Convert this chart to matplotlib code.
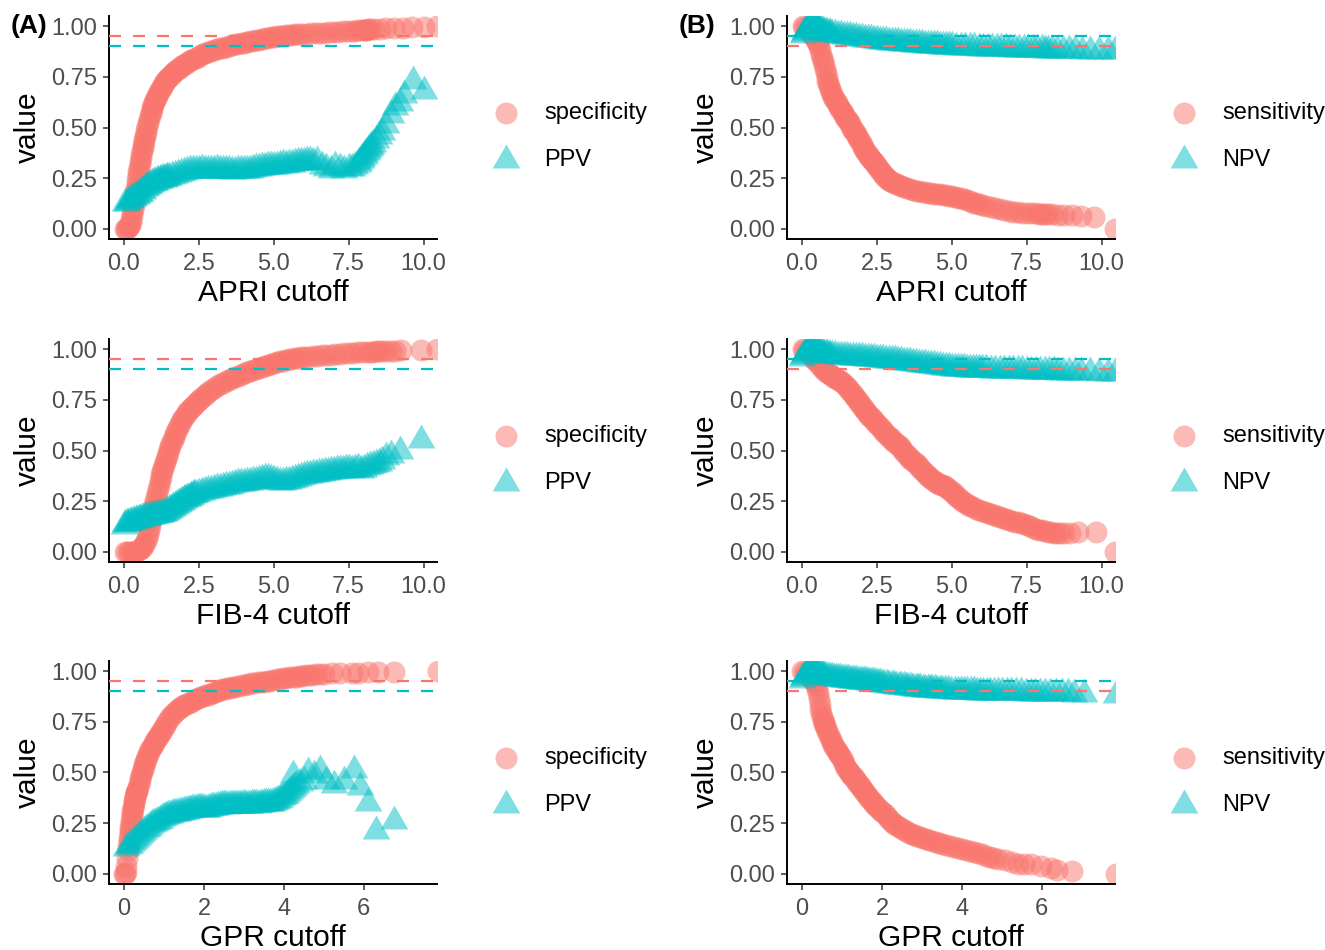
import matplotlib.pyplot as plt

plt.rcParams['font.family'] = ['Liberation Sans', 'DejaVu Sans']

RED = '#F8766D'
CYAN = '#00BFC4'

# (cutoff, value) pairs

# APRI: specificity / PPV
apri_spec = [
    (0.02, 0.0), (0.06, 0.0), (0.1, 0.0), (0.14, 0.01), (0.17, 0.015), (0.2, 0.02), (0.22, 0.035),
    (0.24, 0.05), (0.26, 0.065), (0.28, 0.085), (0.3, 0.1), (0.32, 0.12), (0.34, 0.14), (0.36, 0.16),
    (0.38, 0.18), (0.4, 0.2), (0.42, 0.22), (0.44, 0.245), (0.46, 0.265), (0.48, 0.285), (0.5, 0.3),
    (0.52, 0.32), (0.54, 0.335), (0.56, 0.35), (0.58, 0.37), (0.6, 0.385), (0.62, 0.4), (0.64, 0.415),
    (0.66, 0.43), (0.68, 0.445), (0.7, 0.46), (0.72, 0.475), (0.74, 0.49), (0.77, 0.505), (0.8, 0.52),
    (0.83, 0.54), (0.86, 0.56), (0.89, 0.57), (0.92, 0.585), (0.95, 0.6), (0.98, 0.61), (1.01, 0.625),
    (1.04, 0.635), (1.07, 0.647), (1.1, 0.655), (1.14, 0.665), (1.18, 0.68), (1.22, 0.69), (1.26, 0.7),
    (1.3, 0.71), (1.34, 0.72), (1.38, 0.73), (1.43, 0.738), (1.48, 0.745), (1.53, 0.752), (1.58, 0.76),
    (1.63, 0.767), (1.68, 0.775), (1.74, 0.782), (1.8, 0.79), (1.86, 0.795), (1.92, 0.802), (1.98, 0.808),
    (2.04, 0.815), (2.1, 0.82), (2.17, 0.826), (2.24, 0.832), (2.31, 0.838), (2.39, 0.845), (2.47, 0.85),
    (2.55, 0.856), (2.63, 0.862), (2.72, 0.868), (2.81, 0.873), (2.9, 0.878), (3.0, 0.882), (3.1, 0.886),
    (3.2, 0.89), (3.3, 0.894), (3.4, 0.898), (3.5, 0.902), (3.6, 0.906), (3.7, 0.91), (3.8, 0.913),
    (3.9, 0.916), (4.0, 0.919), (4.1, 0.922), (4.2, 0.925), (4.3, 0.928), (4.4, 0.931), (4.5, 0.934),
    (4.6, 0.937), (4.7, 0.94), (4.8, 0.942), (4.9, 0.945), (5.0, 0.947), (5.1, 0.949), (5.2, 0.951),
    (5.3, 0.953), (5.4, 0.955), (5.5, 0.957), (5.6, 0.958), (5.7, 0.959), (5.8, 0.96), (5.95, 0.962),
    (6.1, 0.963), (6.25, 0.965), (6.4, 0.966), (6.55, 0.967), (6.7, 0.968), (6.85, 0.97), (7.0, 0.971),
    (7.15, 0.972), (7.3, 0.974), (7.45, 0.975), (7.6, 0.977), (7.7, 0.978), (7.8, 0.979), (7.9, 0.98),
    (8.0, 0.981), (8.05, 0.982), (8.1, 0.983), (8.15, 0.984), (8.2, 0.985), (8.35, 0.986), (8.55, 0.988),
    (8.75, 0.99), (9.0, 0.991), (9.3, 0.993), (9.6, 0.995), (10.0, 0.997), (10.45, 1.0)]
apri_ppv = [
    (0.05, 0.13), (0.1, 0.13), (0.15, 0.135), (0.2, 0.14), (0.25, 0.145), (0.3, 0.15), (0.35, 0.155),
    (0.4, 0.16), (0.45, 0.165), (0.5, 0.17), (0.55, 0.178), (0.6, 0.185), (0.65, 0.192), (0.7, 0.2),
    (0.75, 0.205), (0.8, 0.21), (0.85, 0.215), (0.9, 0.22), (0.95, 0.225), (1.0, 0.23), (1.05, 0.232),
    (1.1, 0.235), (1.15, 0.24), (1.2, 0.242), (1.25, 0.245), (1.3, 0.25), (1.35, 0.248), (1.4, 0.252),
    (1.45, 0.255), (1.5, 0.258), (1.6, 0.262), (1.7, 0.268), (1.8, 0.272), (1.9, 0.278), (2.0, 0.28),
    (2.1, 0.285), (2.2, 0.288), (2.3, 0.29), (2.4, 0.292), (2.5, 0.29), (2.6, 0.295), (2.7, 0.29),
    (2.8, 0.292), (2.9, 0.288), (3.0, 0.29), (3.1, 0.295), (3.2, 0.29), (3.3, 0.288), (3.4, 0.292),
    (3.5, 0.29), (3.6, 0.286), (3.7, 0.285), (3.8, 0.288), (3.9, 0.29), (4.0, 0.29), (4.1, 0.288),
    (4.2, 0.292), (4.3, 0.295), (4.4, 0.298), (4.5, 0.3), (4.6, 0.303), (4.7, 0.305), (4.8, 0.31),
    (4.9, 0.308), (5.0, 0.31), (5.1, 0.312), (5.2, 0.315), (5.3, 0.318), (5.4, 0.316), (5.5, 0.32),
    (5.6, 0.322), (5.7, 0.325), (5.8, 0.328), (5.9, 0.33), (6.0, 0.332), (6.1, 0.335), (6.2, 0.333),
    (6.3, 0.33), (6.45, 0.335), (6.6, 0.31), (6.75, 0.3), (6.9, 0.29), (7.05, 0.31), (7.2, 0.3),
    (7.35, 0.29), (7.5, 0.3), (7.6, 0.3), (7.7, 0.31), (7.8, 0.32), (7.85, 0.33), (7.9, 0.34),
    (7.95, 0.35), (8.0, 0.36), (8.05, 0.37), (8.1, 0.38), (8.15, 0.39), (8.2, 0.4), (8.25, 0.41),
    (8.3, 0.42), (8.4, 0.44), (8.5, 0.46), (8.6, 0.48), (8.75, 0.51), (8.9, 0.56), (9.05, 0.6),
    (9.2, 0.62), (9.35, 0.66), (9.65, 0.73), (10.0, 0.68)]

# APRI: sensitivity / NPV
apri_sens = [
    (0.02, 1.0), (0.08, 0.995), (0.14, 0.99), (0.2, 0.985), (0.25, 0.978), (0.3, 0.97), (0.34, 0.96),
    (0.38, 0.95), (0.42, 0.94), (0.46, 0.93), (0.5, 0.92), (0.54, 0.91), (0.58, 0.9), (0.61, 0.88),
    (0.64, 0.86), (0.67, 0.845), (0.7, 0.83), (0.73, 0.81), (0.76, 0.79), (0.79, 0.77), (0.82, 0.75),
    (0.85, 0.73), (0.88, 0.72), (0.91, 0.705), (0.94, 0.69), (0.97, 0.675), (1.0, 0.665), (1.04, 0.65),
    (1.08, 0.64), (1.12, 0.63), (1.16, 0.62), (1.2, 0.61), (1.24, 0.6), (1.28, 0.59), (1.32, 0.58),
    (1.36, 0.57), (1.4, 0.56), (1.44, 0.55), (1.48, 0.54), (1.52, 0.535), (1.56, 0.525), (1.6, 0.515),
    (1.64, 0.505), (1.68, 0.495), (1.72, 0.487), (1.76, 0.478), (1.8, 0.47), (1.84, 0.46), (1.88, 0.45),
    (1.92, 0.44), (1.96, 0.43), (2.0, 0.415), (2.04, 0.405), (2.08, 0.395), (2.12, 0.385), (2.16, 0.375),
    (2.2, 0.365), (2.24, 0.36), (2.28, 0.35), (2.32, 0.345), (2.36, 0.335), (2.4, 0.33), (2.45, 0.32),
    (2.5, 0.31), (2.55, 0.3), (2.6, 0.29), (2.65, 0.28), (2.7, 0.27), (2.75, 0.26), (2.8, 0.255),
    (2.85, 0.248), (2.9, 0.24), (2.95, 0.235), (3.0, 0.23), (3.08, 0.225), (3.16, 0.22), (3.24, 0.215),
    (3.32, 0.21), (3.4, 0.205), (3.5, 0.2), (3.6, 0.196), (3.7, 0.192), (3.8, 0.188), (3.9, 0.185),
    (4.0, 0.182), (4.1, 0.18), (4.2, 0.178), (4.3, 0.176), (4.4, 0.174), (4.5, 0.172), (4.6, 0.17),
    (4.7, 0.168), (4.8, 0.166), (4.9, 0.163), (5.0, 0.16), (5.1, 0.157), (5.2, 0.153), (5.3, 0.15),
    (5.4, 0.145), (5.5, 0.14), (5.6, 0.135), (5.7, 0.13), (5.8, 0.127), (5.9, 0.123), (6.0, 0.12),
    (6.15, 0.114), (6.3, 0.108), (6.45, 0.102), (6.6, 0.096), (6.75, 0.092), (6.9, 0.088), (7.05, 0.085),
    (7.2, 0.082), (7.35, 0.08), (7.5, 0.078), (7.65, 0.077), (7.8, 0.076), (7.9, 0.075), (8.0, 0.074),
    (8.1, 0.073), (8.2, 0.072), (8.35, 0.071), (8.55, 0.07), (8.75, 0.068), (9.0, 0.067), (9.3, 0.065),
    (9.75, 0.06), (10.45, 0.0)]
apri_npv = [
    (0.02, 0.955), (0.06, 0.965), (0.1, 0.975), (0.14, 0.985), (0.18, 0.99), (0.22, 0.995), (0.26, 1.0),
    (0.3, 1.0), (0.34, 1.0), (0.38, 1.0), (0.42, 1.0), (0.46, 0.998), (0.5, 0.995), (0.55, 0.99),
    (0.6, 0.985), (0.65, 0.98), (0.7, 0.975), (0.75, 0.972), (0.8, 0.97), (0.85, 0.968), (0.9, 0.966),
    (0.95, 0.964), (1.0, 0.962), (1.1, 0.96), (1.2, 0.958), (1.3, 0.956), (1.4, 0.953), (1.5, 0.951),
    (1.6, 0.949), (1.7, 0.947), (1.8, 0.945), (1.9, 0.943), (2.0, 0.941), (2.1, 0.939), (2.2, 0.937),
    (2.3, 0.935), (2.4, 0.933), (2.5, 0.931), (2.6, 0.929), (2.7, 0.927), (2.8, 0.925), (2.9, 0.923),
    (3.0, 0.922), (3.1, 0.921), (3.2, 0.92), (3.3, 0.918), (3.4, 0.917), (3.5, 0.916), (3.6, 0.915),
    (3.7, 0.913), (3.8, 0.912), (3.9, 0.911), (4.0, 0.91), (4.1, 0.909), (4.2, 0.908), (4.3, 0.907),
    (4.4, 0.906), (4.5, 0.905), (4.6, 0.904), (4.7, 0.903), (4.8, 0.902), (4.9, 0.901), (5.0, 0.9),
    (5.15, 0.899), (5.3, 0.898), (5.45, 0.897), (5.6, 0.896), (5.75, 0.895), (5.9, 0.894), (6.05, 0.893),
    (6.2, 0.892), (6.35, 0.892), (6.5, 0.891), (6.65, 0.89), (6.8, 0.89), (6.95, 0.889), (7.1, 0.888),
    (7.25, 0.888), (7.4, 0.887), (7.55, 0.886), (7.7, 0.886), (7.85, 0.885), (8.0, 0.885), (8.1, 0.884),
    (8.2, 0.884), (8.35, 0.883), (8.5, 0.882), (8.7, 0.882), (8.9, 0.881), (9.1, 0.88), (9.35, 0.879),
    (9.6, 0.878), (9.9, 0.877), (10.2, 0.876), (10.45, 0.875)]

# FIB-4: specificity / PPV
fib4_spec = [
    (0.03, 0.0), (0.1, 0.0), (0.17, 0.0), (0.24, 0.0), (0.31, 0.0), (0.38, 0.0), (0.45, 0.005), (0.5, 0.01),
    (0.55, 0.015), (0.6, 0.02), (0.64, 0.03), (0.68, 0.04), (0.72, 0.055), (0.76, 0.07), (0.8, 0.09),
    (0.83, 0.11), (0.86, 0.13), (0.89, 0.15), (0.92, 0.17), (0.95, 0.19), (0.98, 0.21), (1.01, 0.23),
    (1.04, 0.25), (1.07, 0.27), (1.1, 0.29), (1.13, 0.31), (1.16, 0.33), (1.19, 0.35), (1.22, 0.37),
    (1.25, 0.385), (1.28, 0.4), (1.31, 0.415), (1.34, 0.43), (1.37, 0.445), (1.4, 0.46), (1.43, 0.475),
    (1.46, 0.49), (1.5, 0.505), (1.54, 0.52), (1.58, 0.535), (1.62, 0.55), (1.66, 0.565), (1.7, 0.58),
    (1.75, 0.595), (1.8, 0.61), (1.85, 0.625), (1.9, 0.64), (1.95, 0.655), (2.0, 0.665), (2.06, 0.68),
    (2.12, 0.69), (2.18, 0.7), (2.24, 0.71), (2.3, 0.72), (2.37, 0.73), (2.44, 0.74), (2.51, 0.75),
    (2.58, 0.76), (2.66, 0.77), (2.74, 0.78), (2.82, 0.79), (2.9, 0.8), (3.0, 0.81), (3.1, 0.818),
    (3.2, 0.826), (3.3, 0.834), (3.4, 0.842), (3.5, 0.85), (3.6, 0.856), (3.7, 0.862), (3.8, 0.868),
    (3.9, 0.874), (4.0, 0.88), (4.1, 0.886), (4.2, 0.892), (4.3, 0.897), (4.4, 0.902), (4.5, 0.907),
    (4.6, 0.912), (4.7, 0.917), (4.8, 0.922), (4.9, 0.927), (5.0, 0.932), (5.1, 0.936), (5.2, 0.94),
    (5.3, 0.943), (5.4, 0.946), (5.5, 0.949), (5.6, 0.952), (5.7, 0.955), (5.8, 0.957), (5.9, 0.959),
    (6.0, 0.961), (6.15, 0.963), (6.3, 0.965), (6.45, 0.967), (6.6, 0.969), (6.75, 0.971), (6.9, 0.973),
    (7.05, 0.975), (7.2, 0.977), (7.35, 0.979), (7.5, 0.98), (7.65, 0.982), (7.8, 0.984), (7.95, 0.985),
    (8.1, 0.986), (8.2, 0.987), (8.3, 0.988), (8.4, 0.989), (8.5, 0.99), (8.6, 0.99), (8.75, 0.991),
    (8.9, 0.992), (9.05, 0.993), (9.25, 0.994), (9.9, 0.997), (10.45, 1.0)]
fib4_ppv = [
    (0.0, 0.13), (0.05, 0.135), (0.1, 0.14), (0.15, 0.14), (0.2, 0.145), (0.25, 0.145), (0.3, 0.15),
    (0.35, 0.15), (0.4, 0.155), (0.45, 0.155), (0.5, 0.16), (0.55, 0.16), (0.6, 0.165), (0.65, 0.165),
    (0.7, 0.17), (0.75, 0.17), (0.8, 0.172), (0.85, 0.175), (0.9, 0.175), (0.95, 0.178), (1.0, 0.18),
    (1.05, 0.18), (1.1, 0.182), (1.15, 0.185), (1.2, 0.185), (1.25, 0.188), (1.3, 0.19), (1.35, 0.193),
    (1.4, 0.196), (1.45, 0.2), (1.5, 0.205), (1.55, 0.21), (1.6, 0.215), (1.65, 0.22), (1.7, 0.225),
    (1.75, 0.23), (1.8, 0.235), (1.85, 0.24), (1.9, 0.245), (1.95, 0.25), (2.0, 0.255), (2.05, 0.26),
    (2.1, 0.265), (2.15, 0.268), (2.2, 0.272), (2.25, 0.276), (2.3, 0.28), (2.35, 0.283), (2.4, 0.286),
    (2.5, 0.29), (2.6, 0.295), (2.7, 0.3), (2.8, 0.303), (2.9, 0.306), (3.0, 0.31), (3.1, 0.313),
    (3.2, 0.316), (3.3, 0.32), (3.4, 0.323), (3.5, 0.326), (3.6, 0.33), (3.7, 0.334), (3.8, 0.338),
    (3.9, 0.34), (4.0, 0.342), (4.1, 0.345), (4.2, 0.347), (4.3, 0.35), (4.4, 0.352), (4.5, 0.355),
    (4.6, 0.358), (4.7, 0.362), (4.8, 0.365), (4.9, 0.36), (5.0, 0.355), (5.1, 0.35), (5.2, 0.345),
    (5.3, 0.345), (5.4, 0.35), (5.5, 0.35), (5.6, 0.355), (5.7, 0.36), (5.8, 0.365), (5.9, 0.37),
    (6.0, 0.375), (6.1, 0.378), (6.2, 0.38), (6.3, 0.383), (6.4, 0.385), (6.5, 0.388), (6.6, 0.39),
    (6.7, 0.392), (6.8, 0.395), (6.9, 0.398), (7.0, 0.4), (7.1, 0.402), (7.2, 0.404), (7.3, 0.406),
    (7.4, 0.408), (7.5, 0.41), (7.6, 0.405), (7.7, 0.41), (7.8, 0.415), (7.9, 0.405), (8.0, 0.41),
    (8.1, 0.42), (8.2, 0.425), (8.3, 0.43), (8.4, 0.435), (8.5, 0.44), (8.6, 0.45), (8.75, 0.47),
    (8.9, 0.48), (9.2, 0.5), (9.9, 0.55)]

# FIB-4: sensitivity / NPV
fib4_sens = [
    (0.02, 1.0), (0.08, 0.995), (0.14, 0.99), (0.2, 0.985), (0.26, 0.975), (0.32, 0.965), (0.38, 0.955),
    (0.44, 0.945), (0.5, 0.935), (0.56, 0.925), (0.62, 0.915), (0.68, 0.905), (0.74, 0.895), (0.8, 0.885),
    (0.86, 0.88), (0.92, 0.875), (0.98, 0.87), (1.04, 0.865), (1.1, 0.86), (1.16, 0.855), (1.22, 0.85),
    (1.28, 0.843), (1.34, 0.836), (1.4, 0.828), (1.46, 0.82), (1.52, 0.81), (1.58, 0.8), (1.64, 0.79),
    (1.7, 0.78), (1.75, 0.77), (1.8, 0.76), (1.85, 0.75), (1.9, 0.74), (1.95, 0.73), (2.0, 0.72),
    (2.05, 0.71), (2.1, 0.7), (2.15, 0.69), (2.2, 0.68), (2.25, 0.672), (2.3, 0.665), (2.36, 0.655),
    (2.42, 0.645), (2.48, 0.635), (2.54, 0.625), (2.6, 0.615), (2.66, 0.605), (2.72, 0.595), (2.78, 0.585),
    (2.84, 0.575), (2.9, 0.567), (2.96, 0.56), (3.02, 0.552), (3.08, 0.544), (3.14, 0.536), (3.2, 0.528),
    (3.26, 0.52), (3.32, 0.51), (3.38, 0.5), (3.44, 0.49), (3.5, 0.48), (3.56, 0.47), (3.62, 0.46),
    (3.68, 0.452), (3.74, 0.444), (3.8, 0.436), (3.86, 0.428), (3.92, 0.42), (3.98, 0.41), (4.04, 0.4),
    (4.1, 0.39), (4.16, 0.38), (4.22, 0.372), (4.28, 0.365), (4.34, 0.358), (4.4, 0.352), (4.46, 0.346),
    (4.52, 0.34), (4.58, 0.336), (4.64, 0.332), (4.7, 0.33), (4.76, 0.325), (4.82, 0.32), (4.88, 0.312),
    (4.94, 0.304), (5.0, 0.296), (5.06, 0.288), (5.12, 0.28), (5.18, 0.272), (5.24, 0.264), (5.3, 0.256),
    (5.38, 0.248), (5.46, 0.24), (5.54, 0.232), (5.62, 0.225), (5.7, 0.219), (5.8, 0.213), (5.9, 0.207),
    (6.0, 0.202), (6.1, 0.197), (6.2, 0.192), (6.3, 0.187), (6.4, 0.182), (6.5, 0.177), (6.6, 0.172),
    (6.7, 0.166), (6.8, 0.16), (6.9, 0.156), (7.0, 0.152), (7.1, 0.149), (7.2, 0.146), (7.3, 0.143),
    (7.4, 0.138), (7.5, 0.132), (7.6, 0.126), (7.7, 0.12), (7.8, 0.115), (7.9, 0.11), (8.0, 0.106),
    (8.1, 0.102), (8.2, 0.099), (8.3, 0.097), (8.4, 0.095), (8.5, 0.094), (8.6, 0.094), (8.75, 0.094),
    (8.95, 0.095), (9.2, 0.097), (9.8, 0.1), (10.45, 0.0)]
fib4_npv = [
    (0.0, 0.955), (0.04, 0.965), (0.08, 0.975), (0.12, 0.985), (0.16, 0.99), (0.2, 0.995), (0.24, 1.0),
    (0.28, 1.0), (0.32, 1.0), (0.36, 1.0), (0.4, 1.0), (0.45, 1.0), (0.5, 0.998), (0.55, 0.995),
    (0.6, 0.99), (0.65, 0.985), (0.7, 0.98), (0.75, 0.978), (0.8, 0.976), (0.85, 0.974), (0.9, 0.973),
    (0.95, 0.972), (1.0, 0.971), (1.1, 0.969), (1.2, 0.967), (1.3, 0.966), (1.4, 0.965), (1.5, 0.964),
    (1.6, 0.963), (1.7, 0.962), (1.8, 0.961), (1.9, 0.96), (2.0, 0.959), (2.1, 0.958), (2.2, 0.956),
    (2.3, 0.955), (2.4, 0.954), (2.5, 0.953), (2.6, 0.951), (2.7, 0.95), (2.8, 0.948), (2.9, 0.947),
    (3.0, 0.945), (3.1, 0.944), (3.2, 0.942), (3.3, 0.941), (3.4, 0.939), (3.5, 0.937), (3.6, 0.935),
    (3.7, 0.933), (3.8, 0.931), (3.9, 0.929), (4.0, 0.927), (4.1, 0.925), (4.2, 0.923), (4.3, 0.921),
    (4.4, 0.92), (4.5, 0.918), (4.6, 0.916), (4.7, 0.914), (4.8, 0.912), (4.9, 0.91), (5.0, 0.909),
    (5.1, 0.908), (5.2, 0.907), (5.3, 0.906), (5.4, 0.905), (5.5, 0.904), (5.6, 0.903), (5.7, 0.902),
    (5.8, 0.902), (5.9, 0.901), (6.0, 0.9), (6.15, 0.9), (6.3, 0.899), (6.45, 0.899), (6.6, 0.898),
    (6.75, 0.897), (6.9, 0.897), (7.05, 0.896), (7.2, 0.895), (7.35, 0.895), (7.5, 0.894), (7.65, 0.893),
    (7.8, 0.893), (7.95, 0.892), (8.1, 0.891), (8.25, 0.891), (8.4, 0.89), (8.55, 0.889), (8.7, 0.889),
    (8.9, 0.888), (9.1, 0.887), (9.3, 0.886), (9.6, 0.885), (9.9, 0.883), (10.2, 0.881), (10.45, 0.88)]

# GPR: specificity / PPV
gpr_spec = [
    (0.0, 0.0), (0.02, 0.0), (0.04, 0.01), (0.06, 0.04), (0.08, 0.08), (0.1, 0.12), (0.11, 0.14),
    (0.12, 0.16), (0.13, 0.18), (0.14, 0.2), (0.15, 0.215), (0.16, 0.23), (0.17, 0.25), (0.18, 0.265),
    (0.19, 0.28), (0.2, 0.295), (0.21, 0.31), (0.22, 0.32), (0.23, 0.33), (0.24, 0.345), (0.25, 0.355),
    (0.26, 0.365), (0.27, 0.375), (0.28, 0.385), (0.29, 0.395), (0.3, 0.4), (0.31, 0.405), (0.32, 0.41),
    (0.33, 0.415), (0.35, 0.43), (0.37, 0.445), (0.39, 0.46), (0.41, 0.475), (0.43, 0.49), (0.45, 0.5),
    (0.47, 0.515), (0.49, 0.525), (0.51, 0.54), (0.53, 0.55), (0.55, 0.565), (0.57, 0.575), (0.6, 0.59),
    (0.63, 0.6), (0.66, 0.615), (0.69, 0.625), (0.72, 0.635), (0.75, 0.645), (0.78, 0.655), (0.81, 0.665),
    (0.84, 0.675), (0.87, 0.685), (0.9, 0.695), (0.94, 0.705), (0.98, 0.72), (1.02, 0.73), (1.06, 0.745),
    (1.1, 0.76), (1.15, 0.775), (1.2, 0.785), (1.25, 0.795), (1.3, 0.805), (1.35, 0.812), (1.4, 0.82),
    (1.45, 0.826), (1.5, 0.832), (1.56, 0.838), (1.62, 0.845), (1.68, 0.85), (1.74, 0.856), (1.8, 0.862),
    (1.86, 0.868), (1.92, 0.874), (1.98, 0.877), (2.04, 0.88), (2.1, 0.883), (2.16, 0.886), (2.22, 0.89),
    (2.28, 0.895), (2.34, 0.9), (2.4, 0.905), (2.46, 0.91), (2.52, 0.913), (2.58, 0.916), (2.64, 0.918),
    (2.7, 0.92), (2.78, 0.924), (2.86, 0.928), (2.94, 0.931), (3.02, 0.934), (3.1, 0.937), (3.18, 0.94),
    (3.26, 0.942), (3.34, 0.944), (3.42, 0.946), (3.5, 0.948), (3.58, 0.95), (3.66, 0.953), (3.74, 0.956),
    (3.82, 0.959), (3.9, 0.962), (3.98, 0.965), (4.06, 0.967), (4.14, 0.969), (4.22, 0.971), (4.3, 0.973),
    (4.38, 0.975), (4.46, 0.977), (4.54, 0.979), (4.62, 0.981), (4.7, 0.983), (4.8, 0.985), (4.9, 0.987),
    (5.0, 0.988), (5.2, 0.99), (5.4, 0.99), (5.7, 0.992), (5.85, 0.993), (6.1, 0.994), (6.35, 0.995),
    (6.75, 0.995), (7.85, 1.0)]
gpr_ppv = [
    (0.05, 0.13), (0.1, 0.135), (0.15, 0.14), (0.2, 0.15), (0.25, 0.16), (0.3, 0.17), (0.35, 0.18),
    (0.4, 0.19), (0.45, 0.2), (0.5, 0.21), (0.55, 0.22), (0.6, 0.228), (0.65, 0.236), (0.7, 0.244),
    (0.75, 0.25), (0.8, 0.256), (0.85, 0.262), (0.9, 0.268), (0.95, 0.274), (1.0, 0.28), (1.05, 0.284),
    (1.1, 0.288), (1.15, 0.292), (1.2, 0.295), (1.25, 0.298), (1.3, 0.3), (1.35, 0.302), (1.4, 0.304),
    (1.45, 0.306), (1.5, 0.308), (1.55, 0.31), (1.6, 0.313), (1.65, 0.316), (1.7, 0.318), (1.75, 0.32),
    (1.8, 0.322), (1.85, 0.325), (1.9, 0.327), (1.95, 0.325), (2.0, 0.322), (2.05, 0.32), (2.1, 0.322),
    (2.15, 0.325), (2.2, 0.328), (2.25, 0.33), (2.3, 0.332), (2.35, 0.334), (2.4, 0.336), (2.45, 0.338),
    (2.5, 0.34), (2.55, 0.338), (2.6, 0.336), (2.65, 0.338), (2.7, 0.34), (2.75, 0.342), (2.8, 0.34),
    (2.85, 0.338), (2.9, 0.34), (2.95, 0.342), (3.0, 0.344), (3.05, 0.342), (3.1, 0.34), (3.15, 0.342),
    (3.2, 0.344), (3.25, 0.346), (3.3, 0.344), (3.35, 0.342), (3.4, 0.344), (3.45, 0.346), (3.5, 0.348),
    (3.55, 0.35), (3.6, 0.348), (3.65, 0.35), (3.7, 0.352), (3.75, 0.355), (3.8, 0.358), (3.85, 0.362),
    (3.9, 0.37), (3.95, 0.378), (4.0, 0.385), (4.05, 0.39), (4.1, 0.4), (4.15, 0.41), (4.2, 0.42),
    (4.22, 0.49), (4.25, 0.43), (4.3, 0.44), (4.4, 0.45), (4.5, 0.46), (4.6, 0.5), (4.75, 0.49),
    (4.9, 0.51), (5.05, 0.46), (5.25, 0.44), (5.5, 0.46), (5.75, 0.51), (5.9, 0.43), (6.1, 0.35),
    (6.3, 0.21), (6.75, 0.26)]

# GPR: sensitivity / NPV
gpr_sens = [
    (0.0, 1.0), (0.05, 0.995), (0.1, 0.99), (0.15, 0.98), (0.2, 0.97), (0.25, 0.96), (0.3, 0.945),
    (0.34, 0.93), (0.38, 0.91), (0.4, 0.89), (0.42, 0.865), (0.44, 0.84), (0.46, 0.815), (0.48, 0.795),
    (0.5, 0.775), (0.52, 0.76), (0.54, 0.75), (0.56, 0.738), (0.58, 0.728), (0.6, 0.718), (0.63, 0.703),
    (0.66, 0.688), (0.69, 0.673), (0.72, 0.658), (0.75, 0.648), (0.78, 0.638), (0.81, 0.628), (0.84, 0.618),
    (0.87, 0.608), (0.9, 0.598), (0.93, 0.59), (0.96, 0.58), (0.99, 0.57), (1.02, 0.558), (1.05, 0.546),
    (1.08, 0.534), (1.11, 0.522), (1.14, 0.51), (1.17, 0.5), (1.2, 0.496), (1.23, 0.49), (1.26, 0.483),
    (1.29, 0.476), (1.32, 0.468), (1.35, 0.46), (1.38, 0.452), (1.41, 0.444), (1.44, 0.436), (1.47, 0.428),
    (1.5, 0.42), (1.54, 0.41), (1.58, 0.4), (1.62, 0.39), (1.66, 0.38), (1.7, 0.37), (1.74, 0.36),
    (1.78, 0.352), (1.82, 0.342), (1.86, 0.333), (1.9, 0.325), (1.95, 0.316), (2.0, 0.307), (2.05, 0.298),
    (2.1, 0.288), (2.15, 0.278), (2.2, 0.268), (2.25, 0.258), (2.3, 0.248), (2.36, 0.24), (2.42, 0.232),
    (2.48, 0.224), (2.54, 0.216), (2.6, 0.21), (2.67, 0.204), (2.74, 0.198), (2.81, 0.192), (2.88, 0.186),
    (2.95, 0.18), (3.02, 0.175), (3.1, 0.17), (3.18, 0.166), (3.26, 0.162), (3.34, 0.157), (3.42, 0.153),
    (3.5, 0.149), (3.6, 0.144), (3.7, 0.139), (3.8, 0.134), (3.9, 0.129), (4.0, 0.125), (4.1, 0.12),
    (4.2, 0.114), (4.3, 0.108), (4.4, 0.102), (4.5, 0.096), (4.6, 0.09), (4.7, 0.085), (4.8, 0.08),
    (4.9, 0.075), (5.07, 0.066), (5.25, 0.058), (5.4, 0.05), (5.55, 0.05), (5.74, 0.05), (5.99, 0.04),
    (6.24, 0.03), (6.37, 0.02), (6.75, 0.015), (7.85, 0.0)]
gpr_npv = [
    (0.0, 0.955), (0.03, 0.965), (0.06, 0.975), (0.09, 0.985), (0.12, 0.99), (0.15, 0.995), (0.18, 1.0),
    (0.21, 1.0), (0.24, 1.0), (0.27, 1.0), (0.3, 1.0), (0.33, 1.0), (0.36, 0.998), (0.4, 0.995),
    (0.44, 0.99), (0.48, 0.985), (0.52, 0.98), (0.56, 0.977), (0.6, 0.975), (0.65, 0.973), (0.7, 0.971),
    (0.75, 0.97), (0.8, 0.968), (0.85, 0.967), (0.9, 0.966), (0.95, 0.965), (1.0, 0.963), (1.05, 0.962),
    (1.1, 0.96), (1.15, 0.959), (1.2, 0.958), (1.25, 0.957), (1.3, 0.956), (1.35, 0.955), (1.4, 0.953),
    (1.45, 0.952), (1.5, 0.951), (1.55, 0.95), (1.6, 0.949), (1.65, 0.948), (1.7, 0.947), (1.75, 0.946),
    (1.8, 0.944), (1.85, 0.943), (1.9, 0.942), (1.95, 0.94), (2.0, 0.939), (2.06, 0.937), (2.12, 0.935),
    (2.18, 0.933), (2.24, 0.932), (2.3, 0.93), (2.36, 0.929), (2.42, 0.928), (2.48, 0.927), (2.54, 0.926),
    (2.6, 0.924), (2.66, 0.922), (2.72, 0.92), (2.78, 0.918), (2.84, 0.917), (2.9, 0.916), (2.96, 0.915),
    (3.02, 0.914), (3.08, 0.913), (3.14, 0.912), (3.2, 0.911), (3.26, 0.91), (3.32, 0.91), (3.38, 0.909),
    (3.44, 0.908), (3.5, 0.907), (3.58, 0.906), (3.66, 0.905), (3.74, 0.904), (3.82, 0.903), (3.9, 0.902),
    (3.98, 0.902), (4.06, 0.901), (4.14, 0.901), (4.22, 0.9), (4.3, 0.9), (4.38, 0.899), (4.46, 0.899),
    (4.54, 0.899), (4.62, 0.898), (4.7, 0.898), (4.8, 0.897), (4.9, 0.897), (5.0, 0.897), (5.12, 0.896),
    (5.24, 0.896), (5.36, 0.895), (5.48, 0.895), (5.6, 0.894), (5.72, 0.894), (5.84, 0.893), (5.96, 0.893),
    (6.08, 0.892), (6.2, 0.892), (6.35, 0.891), (6.5, 0.89), (6.65, 0.89), (6.8, 0.889), (7.05, 0.888),
    (7.85, 0.88)]

dec_ticks = [0, 2.5, 5, 7.5, 10]
dec_labels = ['0.0', '2.5', '5.0', '7.5', '10.0']
gpr_ticks = [0, 2, 4, 6]
gpr_labels = ['0', '2', '4', '6']
y_ticks = [0, 0.25, 0.5, 0.75, 1.0]
y_labels = ['0.00', '0.25', '0.50', '0.75', '1.00']

W, H = 1325, 950
fig = plt.figure(figsize=(W / 100, H / 100), dpi=100)

# equilateral triangle marker centred on its centroid
TRI = [(-1, -0.577), (1, -0.577), (0, 1.155)]


def panel(col, row, red, cyan, names, lines, xlim, xticks, xticklabels, xlabel):
    left = [109, 787][col] / W
    bottom = 1 - [239, 562, 884][row] / H
    ax = fig.add_axes([left, bottom, 328 / W, 223 / H])
    rx, ry = zip(*red)
    cx, cy = zip(*cyan)
    s1 = ax.scatter(rx, ry, s=250, color=RED, alpha=0.5, linewidths=0, zorder=2)
    s2 = ax.scatter(cx, cy, s=530, marker=TRI, color=CYAN, alpha=0.5, linewidths=0, zorder=2)
    ax.axhline(lines[0], color=RED, lw=1.6, dashes=(5.4, 5.4), zorder=3)
    ax.axhline(lines[1], color=CYAN, lw=1.6, dashes=(5.4, 5.4), zorder=3)
    ax.set_xlim(xlim)
    ax.set_ylim(-0.05, 1.05)
    ax.set_xticks(xticks)
    ax.set_xticklabels(xticklabels)
    ax.set_yticks(y_ticks)
    ax.set_yticklabels(y_labels)
    ax.set_xlabel(xlabel, fontsize=21.5, labelpad=3)
    ax.set_ylabel('value', fontsize=21.5, labelpad=7)
    for side in ['top', 'right']:
        ax.spines[side].set_visible(False)
    for side in ['left', 'bottom']:
        ax.spines[side].set_linewidth(1.4)
    ax.tick_params(length=4.3, width=1.1, color='#333333', labelcolor='#4D4D4D', labelsize=17)
    ax.tick_params(axis='x', pad=5.5)
    ax.tick_params(axis='y', pad=4)
    ax.legend([s1, s2], names, loc='center left', bbox_to_anchor=(1.156, 0.458),
              frameon=False, fontsize=17, scatterpoints=1, borderpad=0, borderaxespad=0,
              handlelength=1.5, handletextpad=0.86, labelspacing=1.05)
    return ax


dec_lim = (-0.5, 10.45)
gpr_lim = (-0.375, 7.83)

panel(0, 0, apri_spec, apri_ppv, ['specificity', 'PPV'], (0.95, 0.90),
      dec_lim, dec_ticks, dec_labels, 'APRI cutoff')
panel(1, 0, apri_sens, apri_npv, ['sensitivity', 'NPV'], (0.90, 0.95),
      dec_lim, dec_ticks, dec_labels, 'APRI cutoff')
panel(0, 1, fib4_spec, fib4_ppv, ['specificity', 'PPV'], (0.95, 0.90),
      dec_lim, dec_ticks, dec_labels, 'FIB-4 cutoff')
panel(1, 1, fib4_sens, fib4_npv, ['sensitivity', 'NPV'], (0.90, 0.95),
      dec_lim, dec_ticks, dec_labels, 'FIB-4 cutoff')
panel(0, 2, gpr_spec, gpr_ppv, ['specificity', 'PPV'], (0.95, 0.90),
      gpr_lim, gpr_ticks, gpr_labels, 'GPR cutoff')
panel(1, 2, gpr_sens, gpr_npv, ['sensitivity', 'NPV'], (0.90, 0.95),
      gpr_lim, gpr_ticks, gpr_labels, 'GPR cutoff')

fig.text(11 / W, 1 - 26 / H, '(A)', fontsize=19, fontweight='bold', va='center', ha='left')
fig.text(679 / W, 1 - 26 / H, '(B)', fontsize=19, fontweight='bold', va='center', ha='left')

fig.savefig('out.png', dpi=100)
